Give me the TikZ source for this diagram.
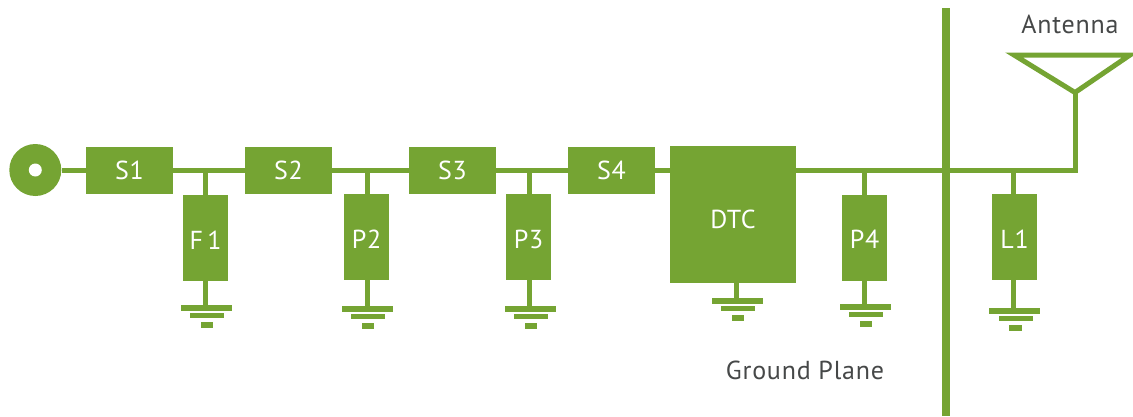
\documentclass[tikz,border=0pt]{standalone}
\usepackage{fontspec}
\setmainfont{PT Sans}[LetterSpace=3]
\definecolor{grn}{RGB}{117,164,51}
\definecolor{ink}{RGB}{70,72,72}
\tikzset{
  x=1pt,y=-1pt,
  wire/.style={draw=grn,line width=5pt,line join=miter},
  blk/.style={fill=grn,draw=none,inner sep=0pt,text=white,font=\fontsize{26}{26}\selectfont,minimum width=87pt,minimum height=47pt},
  shunt/.style={blk,minimum width=45pt,minimum height=86pt},
  captext/.style={text=ink,font=\fontsize{26}{26}\selectfont,inner sep=0pt}
}
\newcommand{\lbl}[2]{\raisebox{-#1pt}[18pt][0pt]{#2}}
\newcommand{\gnd}[3]{%
  \fill[grn] (#1,#2) rectangle ++(51,5.5);
  \fill[grn] (#1+9.3,#2+7.7) rectangle ++(34,5.4);
  \fill[grn] (#1+20,#2+17) rectangle ++(12.3,5.5);
  \coordinate (#3) at (#1+24.5,#2+1);
}
\begin{document}
\begin{tikzpicture}
\useasboundingbox (0,0) rectangle (1133,416);
\coordinate (plT) at (946,8); \coordinate (plB) at (946,416);
\coordinate (tee) at (1075,170);
\coordinate (apex) at (1075,92.5);
\coordinate (aL) at (1014,55);
\coordinate (aR) at (1130,55);
\node[circle,fill=grn,minimum size=52pt,inner sep=0pt] (port) at (35.3,170) {};
\node[circle,fill=white,minimum size=13pt,inner sep=0pt] (porti) at (35.3,170) {};
\node[blk] (S1) at (129.5,170) {\lbl{0.7}{S1}};
\node[blk] (S2) at (288.5,170) {\lbl{0.7}{S2}};
\node[blk] (S3) at (452.5,170) {\lbl{0.7}{S3}};
\node[blk] (S4) at (611.5,170) {\lbl{0.7}{S4}};
\node[blk,minimum width=126pt,minimum height=137pt] (DTC) at (733,214.5) {\lbl{4.5}{DTC}};
\node[shunt] (F1) at (205.5,238) {\lbl{2}{F\,1}};
\node[shunt] (P2) at (366.5,237) {\lbl{2}{P2}};
\node[shunt] (P3) at (528.5,237) {\lbl{2}{P3}};
\node[shunt] (P4) at (864.5,238) {\lbl{1.3}{P4}};
\node[shunt] (L1) at (1014.5,237) {\lbl{2}{L1}};
\gnd{180.7}{305}{g1}
\gnd{342}{306.3}{g2}
\gnd{504.7}{306.3}{g3}
\gnd{712}{298.3}{g4}
\gnd{839.7}{304.3}{g5}
\gnd{989.3}{308.3}{g6}
\foreach \j/\x in {j1/205,j2/367,j3/529,j5/864,j6/1013.7}{\coordinate (\j) at (\x,170);}
\draw[wire] (port.east) -- (S1.west);
\draw[wire] (S1.east) -- (S2.west);
\draw[wire] (S2.east) -- (S3.west);
\draw[wire] (S3.east) -- (S4.west);
\draw[wire] (S4.east) -- (DTC.west|-S4.east);
\draw[wire,line cap=butt] (DTC.east|-tee) -- (tee) -- (apex);
\draw[wire] (aL) -- (aR) -- (apex) -- cycle;
\draw[draw=grn,line width=8.5pt] (plT) -- (plB);
\foreach \j/\b/\g in {j1/F1/g1,j2/P2/g2,j3/P3/g3,j5/P4/g5,j6/L1/g6}{
  \draw[wire] (\j) -- (\j|-\b.north);
  \draw[wire] (\j|-\b.south) -- (\j|-\g);
}
\draw[wire] (DTC.south-|g4) -- (g4);
\node[captext] (ant) at (1070,24) {Antenna};
\node[captext] (gp) at (805,370) {Ground Plane};
\end{tikzpicture}
\end{document}
